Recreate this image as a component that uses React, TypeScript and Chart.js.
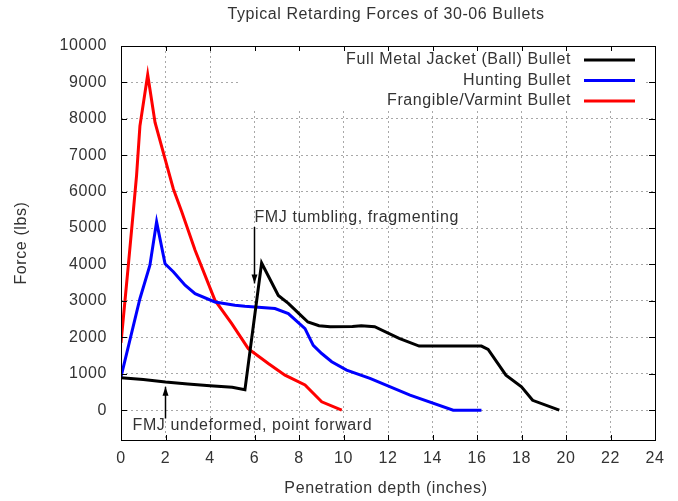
import React, { useEffect, useRef } from 'react';
import { Chart, registerables } from 'chart.js';

Chart.register(...registerables);

const titleText = 'Typical Retarding Forces of 30-06 Bullets';
const xAxisTitle = 'Penetration depth (inches)';
const yAxisTitle = 'Force (lbs)';

const fmjLabel = 'Full Metal Jacket (Ball) Bullet';
const fmjX = [0, 1, 2, 3, 4, 5, 5.57, 6.32, 7.07, 7.52, 8.0, 8.4, 8.9, 9.4, 10.4, 10.8, 11.4, 12.5, 13.4, 16.2, 16.5, 17.3, 18.0, 18.5, 19.7];
const fmjY = [890, 840, 770, 720, 670, 630, 560, 4040, 3150, 2930, 2650, 2420, 2320, 2290, 2300, 2320, 2290, 1970, 1760, 1760, 1670, 960, 640, 270, 0];

const huntLabel = 'Hunting Bullet';
const huntX = [0, 0.85, 1.3, 1.6, 1.98, 2.35, 2.88, 3.33, 4.22, 5.12, 5.57, 6.92, 7.52, 8.27, 8.64, 9.02, 9.47, 10.14, 11.19, 12.99, 14.93, 16.2];
const huntY = [910, 3060, 3980, 5170, 4020, 3800, 3430, 3200, 2970, 2880, 2850, 2790, 2650, 2240, 1780, 1555, 1330, 1100, 870, 410, 0, 0];

const frangLabel = 'Frangible/Varmint Bullet';
const frangX = [0, 0.33, 0.55, 0.7, 0.85, 1.2, 1.53, 1.98, 2.35, 2.73, 3.33, 4.22, 4.97, 5.72, 6.62, 7.37, 8.27, 9.02, 9.92];
const frangY = [1850, 3980, 5440, 6450, 7800, 9210, 7900, 6900, 6080, 5450, 4390, 3020, 2380, 1690, 1280, 960, 690, 230, 0];

const xTickValues = [0, 2, 4, 6, 8, 10, 12, 14, 16, 18, 20, 22, 24];
const yTickValues = [0, 1000, 2000, 3000, 4000, 5000, 6000, 7000, 8000, 9000, 10000];
const xMin = 0;
const xMax = 24;
const yMin = -820;
const yMax = 10000;

const annoTumble = { text: 'FMJ tumbling, fragmenting', x: 6, yText: 5300, yFrom: 5030, yTo: 3480 };
const annoUndeformed = { text: 'FMJ undeformed, point forward', xText: 0.52, yText: -430, x: 2, yFrom: -230, yTo: 640 };

const FONT = '"Liberation Sans", Arial, Helvetica, sans-serif';
const TEXT = '#333333';
const FONT_SIZE = 16;
const SPACING = '0.6px';

export default function App() {
  const ref = useRef<HTMLCanvasElement>(null);

  useEffect(() => {
    const canvas = ref.current;
    if (!canvas) return;
    const pts = (xs: number[], ys: number[]) => xs.map((x, i) => ({ x, y: ys[i] }));
    const series = [
      { label: fmjLabel, color: '#000000', data: pts(fmjX, fmjY) },
      { label: huntLabel, color: '#0000ff', data: pts(huntX, huntY) },
      { label: frangLabel, color: '#ff0000', data: pts(frangX, frangY) },
    ];

    const arrow = (ctx: CanvasRenderingContext2D, x: number, y1: number, y2: number) => {
      ctx.beginPath();
      ctx.moveTo(x, y1);
      ctx.lineTo(x, y2);
      ctx.stroke();
      const dir = y2 > y1 ? 1 : -1;
      ctx.beginPath();
      ctx.moveTo(x, y2);
      ctx.lineTo(x - 3, y2 - dir * 9);
      ctx.lineTo(x + 3, y2 - dir * 9);
      ctx.closePath();
      ctx.fill();
    };

    const decor = {
      id: 'decor',
      beforeDraw(chart: any) {
        (chart.ctx as any).letterSpacing = SPACING;
      },
      beforeDatasetsDraw(chart: any) {
        const { ctx, chartArea: a } = chart;
        ctx.save();
        ctx.fillStyle = '#ffffff';
        ctx.fillRect(a.left + 117, a.top, a.right - 12 - (a.left + 117), 64);
        ctx.restore();
      },
      afterDatasetsDraw(chart: any) {
        const { ctx, chartArea: a } = chart;
        const xs = chart.scales.x;
        const ys = chart.scales.y;
        ctx.save();
        (ctx as any).letterSpacing = SPACING;
        // border
        ctx.strokeStyle = '#000';
        ctx.lineWidth = 1;
        ctx.strokeRect(Math.round(a.left) + 0.5, Math.round(a.top) + 0.5, Math.round(a.right - a.left), Math.round(a.bottom - a.top));
        // inward ticks
        ctx.beginPath();
        yTickValues.forEach((v) => {
          const py = Math.round(ys.getPixelForValue(v)) + 0.5;
          ctx.moveTo(a.left, py); ctx.lineTo(a.left + 6, py);
          ctx.moveTo(a.right, py); ctx.lineTo(a.right - 6, py);
        });
        xTickValues.forEach((v) => {
          const px = Math.round(xs.getPixelForValue(v)) + 0.5;
          ctx.moveTo(px, a.bottom); ctx.lineTo(px, a.bottom - 5);
          ctx.moveTo(px, a.top); ctx.lineTo(px, a.top + 5);
        });
        ctx.stroke();

        // annotations
        ctx.fillStyle = '#000';
        ctx.strokeStyle = '#000';
        ctx.lineWidth = 1.5;
        arrow(ctx, xs.getPixelForValue(annoTumble.x), ys.getPixelForValue(annoTumble.yFrom), ys.getPixelForValue(annoTumble.yTo));
        arrow(ctx, xs.getPixelForValue(annoUndeformed.x), ys.getPixelForValue(annoUndeformed.yFrom), ys.getPixelForValue(annoUndeformed.yTo));
        ctx.font = `${FONT_SIZE}px ${FONT}`;
        ctx.fillStyle = TEXT;
        ctx.textBaseline = 'middle';
        ctx.textAlign = 'left';
        ctx.fillText(annoTumble.text, xs.getPixelForValue(annoTumble.x), ys.getPixelForValue(annoTumble.yText));
        ctx.fillText(annoUndeformed.text, xs.getPixelForValue(annoUndeformed.xText), ys.getPixelForValue(annoUndeformed.yText));

        // legend
        const rows = [14, 34.5, 55];
        series.forEach((s, i) => {
          const y = a.top + rows[i];
          ctx.textAlign = 'right';
          ctx.fillStyle = TEXT;
          ctx.fillText(s.label, a.right - 84, y);
          ctx.strokeStyle = s.color;
          ctx.lineWidth = 3;
          ctx.beginPath();
          ctx.moveTo(a.right - 71, y);
          ctx.lineTo(a.right - 20, y);
          ctx.stroke();
        });

        // titles
        ctx.fillStyle = TEXT;
        ctx.textAlign = 'center';
        ctx.fillText(titleText, (a.left + a.right) / 2 - 2, 14.5);
        ctx.fillText(xAxisTitle, (a.left + a.right) / 2 - 2, 489);
        ctx.save();
        ctx.translate(22, (a.top + a.bottom) / 2);
        ctx.rotate(-Math.PI / 2);
        ctx.fillText(yAxisTitle, 0, 0);
        ctx.restore();
        ctx.restore();
      },
    };

    const chart = new Chart(canvas, {
      type: 'line',
      data: {
        datasets: series.map((s) => ({
          label: s.label,
          data: s.data,
          borderColor: s.color,
          backgroundColor: s.color,
          borderWidth: 3,
          pointRadius: 0,
          tension: 0,
          fill: false,
        })),
      },
      options: {
        animation: false,
        responsive: false,
        devicePixelRatio: 1,
        layout: { padding: { left: 0, top: 46, right: 23, bottom: 0 } },
        plugins: { legend: { display: false }, tooltip: { enabled: false }, title: { display: false } },
        scales: {
          x: {
            type: 'linear',
            min: xMin,
            max: xMax,
            afterFit: (s: any) => { s.height = 61; },
            afterBuildTicks: (s: any) => { s.ticks = xTickValues.map((v) => ({ value: v })); },
            ticks: { color: TEXT, font: { family: FONT, size: FONT_SIZE }, padding: 9, maxRotation: 0, autoSkip: false, callback: (v: any) => String(v) },
            grid: { color: '#a8a8a8', drawTicks: false, lineWidth: 1 },
            border: { display: false, dash: [2, 3] },
          },
          y: {
            type: 'linear',
            min: yMin,
            max: yMax,
            afterFit: (s: any) => { s.width = 121; },
            afterBuildTicks: (s: any) => { s.ticks = yTickValues.map((v) => ({ value: v })); },
            ticks: { color: TEXT, font: { family: FONT, size: FONT_SIZE }, padding: 14, autoSkip: false, callback: (v: any) => String(v) },
            grid: { color: '#a8a8a8', drawTicks: false, lineWidth: 1 },
            border: { display: false, dash: [2, 3] },
          },
        },
      },
      plugins: [decor],
    } as any);
    return () => chart.destroy();
  }, []);

  return (
    <div style={{ position: 'absolute', left: 0, top: 0, width: 678, height: 501, background: '#fff' }}>
      <canvas ref={ref} width={678} height={501} style={{ width: 678, height: 501, display: 'block' }} />
    </div>
  );
}
